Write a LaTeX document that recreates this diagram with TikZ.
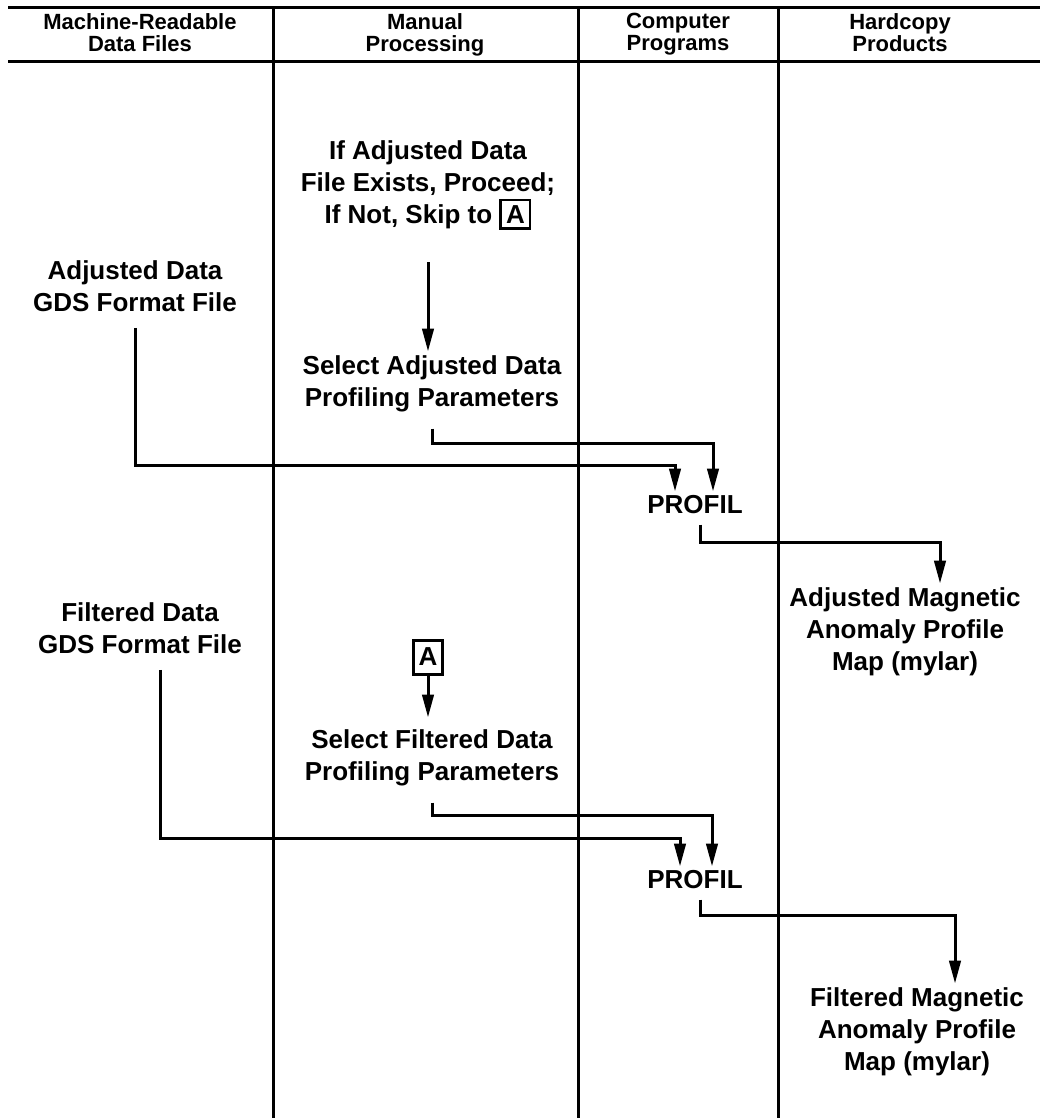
\documentclass[tikz,border=0pt]{standalone}
\usepackage{fontspec}
\setmainfont{Liberation Sans}
\usetikzlibrary{arrows.meta,calc}
\setlength{\fboxsep}{2pt}
\setlength{\fboxrule}{1.3pt}
\tikzset{
  ar/.style={-{Triangle[length=4mm,width=2mm]},line width=1.5pt},
  ln/.style={line width=1.5pt},
  txt/.style={align=center,inner sep=2pt,font=\bfseries\fontsize{13}{16}\selectfont},
  hdr/.style={align=center,anchor=north,inner sep=1pt,font=\bfseries\fontsize{11}{11}\selectfont},
  conbox/.style={draw,line width=1.5pt,inner sep=2.5pt,minimum height=17pt,minimum width=14pt,font=\bfseries\fontsize{13}{16}\selectfont}
}

\begin{document}
\begin{tikzpicture}[x=0.5pt,y=-0.5pt]
\useasboundingbox (0,0) rectangle (1046,1118);
% header rules and column dividers
\draw[ln] (8,8) -- (1040,8);
\draw[ln] (8,62) -- (1040,62);
\foreach \x in {273,578,778}
  \draw[ln] (\x,8) -- (\x,1118);

% column headings
\node[hdr] (hMrd) at (140,11) {Machine-Readable\\Data Files};
\node[hdr] (hMan) at (425,11) {Manual\\Processing};
\node[hdr] (hCom) at (678,11) {Computer\\Programs};
\node[hdr] (hHcp) at (900,11) {Hardcopy\\Products};

% adjusted data branch
\node[txt] (adjChk) at (428,185) {If Adjusted Data\\File Exists, Proceed;\\If Not, Skip to \fbox{A}};
\node[txt] (selAdj) at (432,384) {Select Adjusted Data\\Profiling Parameters};
\node[txt] (adjFile) at (135,286) {Adjusted Data\\GDS Format File};
\node[txt] (prof1) at (695,505) {PROFIL};
\node[txt] (adjMap) at (905,632) {Adjusted Magnetic\\Anomaly Profile\\Map (mylar)};

% filtered data branch
\node[conbox] (conA) at (428,657) {A};
\node[txt] (selFil) at (432,758) {Select Filtered Data\\Profiling Parameters};
\node[txt] (filFile) at (140,628) {Filtered Data\\GDS Format File};
\node[txt] (prof2) at (695,880) {PROFIL};
\node[txt] (filMap) at (917,1032) {Filtered Magnetic\\Anomaly Profile\\Map (mylar)};

% bends
\coordinate (a1) at (675,465);
\coordinate (a2) at (713,443);
\coordinate (a3) at (940,542);
\coordinate (f1) at (680,838);
\coordinate (f2) at (712,815);
\coordinate (f3) at (955,915);

\draw[ar,shorten <=14pt] (adjChk.south) -- (adjChk.south |- selAdj.north);
\draw[ar,shorten <=6pt] (adjFile.south) |- (a1) -- (a1 |- prof1.north);
\draw[ar,shorten <=6pt] (selAdj.south) |- (a2) -- (a2 |- prof1.north);
\draw[ar,shorten <=3pt] ([xshift=2.5pt]prof1.south) |- (a3) -- (a3 |- adjMap.north);

\draw[ar,shorten >=4pt] (conA.south) -- (conA.south |- selFil.north);
\draw[ar,shorten <=6pt] ([xshift=10pt]filFile.south) |- (f1) -- (f1 |- prof2.north);
\draw[ar,shorten <=6pt] (selFil.south) |- (f2) -- (f2 |- prof2.north);
\draw[ar,shorten <=3pt] ([xshift=2.5pt]prof2.south) |- (f3) -- (f3 |- filMap.north);
\end{tikzpicture}
\end{document}
